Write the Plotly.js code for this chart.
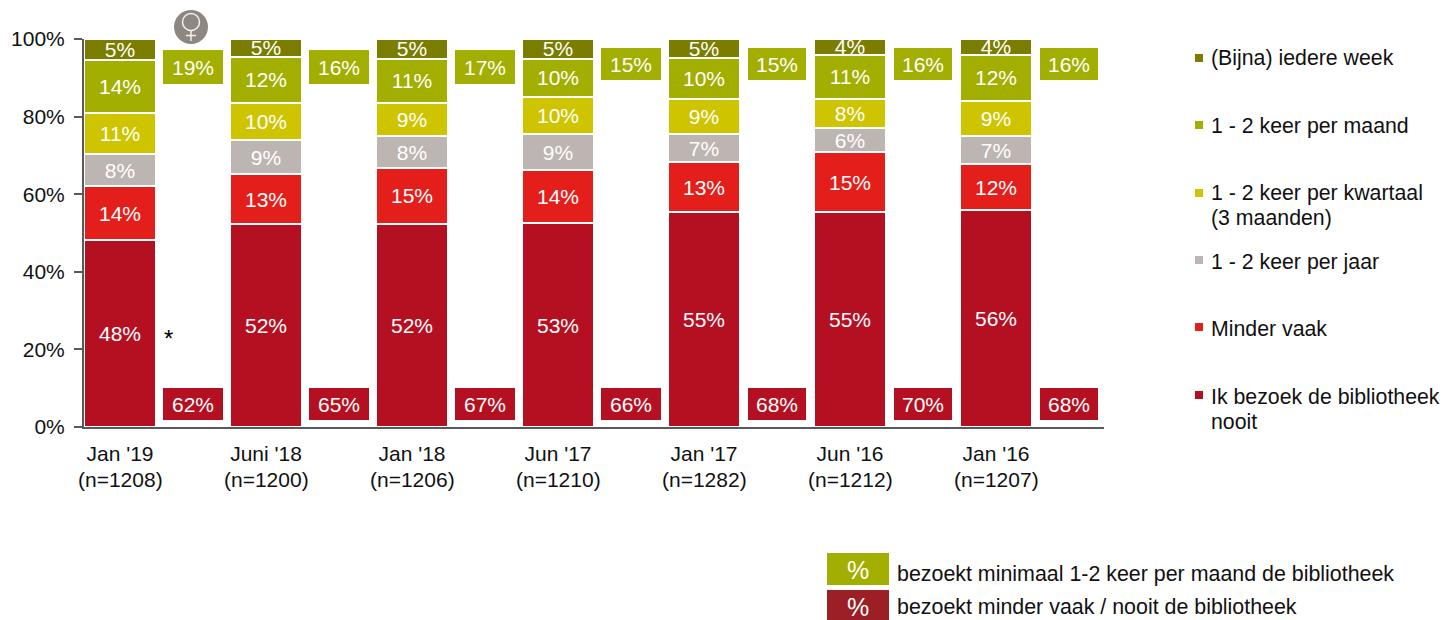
<!DOCTYPE html>
<html>
<head>
<meta charset="utf-8">
<script src="https://cdn.plot.ly/plotly-3.0.1.min.js"></script>
<style>html,body{margin:0;padding:0;background:#fff;overflow:hidden}</style>
</head>
<body>
<div id="chart" style="width:1443px;height:620px"></div>
<script>
var waves = ["Jan '19", "Juni '18", "Jan '18", "Jun '17", "Jan '17", "Jun '16", "Jan '16"];
var sampleSizes = [1208, 1200, 1206, 1210, 1282, 1212, 1207];
var yTicks = [0, 20, 40, 60, 80, 100];
var yTickLabels = ["0%", "20%", "40%", "60%", "80%", "100%"];

var nooit      = [48.2, 52.3, 52.3, 52.5, 55.4, 55.4, 55.9];
var mindervaak = [13.8, 12.8, 14.5, 13.7, 12.8, 15.4, 11.8];
var perJaar    = [8.3, 8.8, 8.1, 9.2, 7.2, 6.2, 7.2];
var perKwartaal= [10.6, 9.7, 8.7, 9.7, 9.2, 7.6, 9.2];
var perMaand   = [13.7, 11.8, 11.3, 9.8, 10.4, 11.4, 11.9];
var perWeek    = [5.4, 4.6, 5.1, 5.1, 5.0, 4.0, 4.0];

var minimaalMaand = [19, 16, 17, 15, 15, 16, 16];
var minderNooit   = [62, 65, 67, 66, 68, 70, 68];

var seriesNames = ["Ik bezoek de bibliotheek<br>nooit", "Minder vaak", "1 - 2 keer per jaar",
  "1 - 2 keer per kwartaal<br>(3 maanden)", "1 - 2 keer per maand", "(Bijna) iedere week"];
var seriesValues = [nooit, mindervaak, perJaar, perKwartaal, perMaand, perWeek];
var seriesColors = ["#b41022", "#e41e1b", "#bdb5b1", "#cec500", "#a3af00", "#7a7d00"];

var FONT = "Liberation Sans, Arial, sans-serif";
var TEXT = "#111111";
var AXIS = "#595959";
var GREEN_BOX = "#a3af00", RED_BOX = "#b41022";

// pixel helpers for decoration placement (plot area spans 84..1104 x 39..427)
function xp(px){ return (px - 84) / 1020; }
function yp(py){ return (427 - py) / 388; }
function yd(py){ return 100 * (427 - py) / 388; }

var traces = seriesValues.map(function (vals, s) {
  return {
    type: "bar",
    name: seriesNames[s].replace("<br>", " "),
    x: waves.map(function (_, i) { return i; }),
    y: vals,
    width: 72 / 146,
    marker: { color: seriesColors[s], line: { color: "#ffffff", width: 2 } },
    texttemplate: "%{y:.0f}%",
    textposition: "inside",
    insidetextanchor: "middle",
    constraintext: "none",
    textangle: 0,
    insidetextfont: { family: FONT, size: 21, color: "#ffffff" },
    hoverinfo: "name+y"
  };
});

var annotations = [];
var shapes = [];

// Callout boxes beside the bars, sample sizes below the axis
waves.forEach(function (_, i) {
  var w = i < 4 ? 60 : 58;
  var greenH = i < 3 ? 34 : 32;
  var greenC = i < 3 ? 67 : 64;
  annotations.push({
    xref: "x", yref: "y", x: i + 0.5, y: yd(greenC), text: minimaalMaand[i] + "%",
    showarrow: false, width: w, height: greenH, bgcolor: GREEN_BOX, borderpad: 0, borderwidth: 0,
    font: { family: FONT, size: 21, color: "#ffffff" }, align: "center", valign: "middle"
  });
  annotations.push({
    xref: "x", yref: "y", x: i + 0.5, y: yd(404), text: minderNooit[i] + "%",
    showarrow: false, width: w, height: 32, bgcolor: RED_BOX, borderpad: 0, borderwidth: 0,
    font: { family: FONT, size: 21, color: "#ffffff" }, align: "center", valign: "middle"
  });
  annotations.push({
    xref: "x", yref: "paper", x: i, y: yp(479), xanchor: "center", yanchor: "middle",
    text: "(n=" + sampleSizes[i] + ")", showarrow: false, borderpad: 0,
    font: { family: FONT, size: 21, color: TEXT }
  });
});

// Asterisk
annotations.push({
  xref: "paper", yref: "paper", x: xp(168.5), y: yp(338), xanchor: "center", yanchor: "middle",
  text: "*", showarrow: false, font: { family: FONT, size: 24, color: "#000000" }
});

// Custom legend
var legendSquares = [395, 327, 260, 193, 125, 58];
var legendText = [397, 329, 262, 193, 126, 58];
seriesNames.forEach(function (name, s) {
  shapes.push({
    type: "rect", xref: "paper", yref: "paper", layer: "above",
    x0: xp(1195), x1: xp(1203), y0: yp(legendSquares[s] + 4), y1: yp(legendSquares[s] - 4),
    fillcolor: seriesColors[s], line: { width: 0 }
  });
  name.split("<br>").forEach(function (line, k) {
    annotations.push({
      xref: "paper", yref: "paper", x: xp(1210), y: yp(legendText[s] + k * 25),
      xanchor: "left", yanchor: "middle", text: line, showarrow: false, borderpad: 0,
      font: { family: FONT, size: 21.3, color: TEXT }
    });
  });
});

// Bottom key
var keyRows = [
  { top: 553, bottom: 585, color: "#a3af00", pct: 570, label: 574, text: "bezoekt minimaal 1-2 keer per maand de bibliotheek" },
  { top: 590, bottom: 620, color: "#9b1f24", pct: 607, label: 607, text: "bezoekt minder vaak / nooit de bibliotheek" }
];
keyRows.forEach(function (r) {
  shapes.push({
    type: "rect", xref: "paper", yref: "paper", layer: "above",
    x0: xp(827), x1: xp(889), y0: yp(r.bottom), y1: yp(r.top),
    fillcolor: r.color, line: { width: 0 }
  });
  annotations.push({
    xref: "paper", yref: "paper", x: xp(858), y: yp(r.pct), xanchor: "center", yanchor: "middle",
    text: "%", showarrow: false, borderpad: 0,
    font: { family: FONT, size: 25, color: "#ffffff" }
  });
  annotations.push({
    xref: "paper", yref: "paper", x: xp(896), y: yp(r.label), xanchor: "left", yanchor: "middle",
    text: r.text, showarrow: false, borderpad: 0, font: { family: FONT, size: 21.4, color: TEXT }
  });
});

// Female icon
shapes.push({ type: "circle", xref: "paper", yref: "paper", layer: "above",
  x0: xp(174), x1: xp(208), y0: yp(44), y1: yp(10), fillcolor: "#8e8681", line: { width: 0 } });
shapes.push({ type: "circle", xref: "paper", yref: "paper", layer: "above",
  x0: xp(182.5), x1: xp(199.5), y0: yp(30.5), y1: yp(13.5), fillcolor: "#8e8681", line: { color: "#f2f0ee", width: 1.5 } });
shapes.push({ type: "line", xref: "paper", yref: "paper", layer: "above",
  x0: xp(191), x1: xp(191), y0: yp(41), y1: yp(30.5), line: { color: "#f2f0ee", width: 1.5 } });
shapes.push({ type: "line", xref: "paper", yref: "paper", layer: "above",
  x0: xp(186), x1: xp(196), y0: yp(35.5), y1: yp(35.5), line: { color: "#f2f0ee", width: 1.5 } });

var layout = {
  width: 1443, height: 620, autosize: false,
  margin: { l: 84, r: 339, t: 39, b: 193, pad: 0 },
  paper_bgcolor: "#ffffff", plot_bgcolor: "#ffffff",
  barmode: "stack", showlegend: false,
  font: { family: FONT, size: 21, color: TEXT },
  xaxis: {
    range: [(84 - 120) / 146, (1104 - 120) / 146],
    tickmode: "array",
    tickvals: waves.map(function (_, i) { return i; }),
    ticktext: waves,
    ticks: "", showgrid: false, zeroline: false,
    showline: true, linecolor: AXIS, linewidth: 2,
    ticklabelstandoff: 7,
    tickfont: { family: FONT, size: 21, color: TEXT }
  },
  yaxis: {
    range: [0, 100], tickmode: "array", tickvals: yTicks, ticktext: yTickLabels,
    ticks: "outside", ticklen: 8, tickwidth: 2, tickcolor: AXIS,
    showgrid: false, zeroline: false, showline: true, linecolor: AXIS, linewidth: 2,
    ticklabelstandoff: 5,
    tickfont: { family: FONT, size: 21, color: TEXT }
  },
  annotations: annotations,
  shapes: shapes
};

Plotly.newPlot("chart", traces, layout, { displayModeBar: false, responsive: false });
</script>
</body>
</html>
